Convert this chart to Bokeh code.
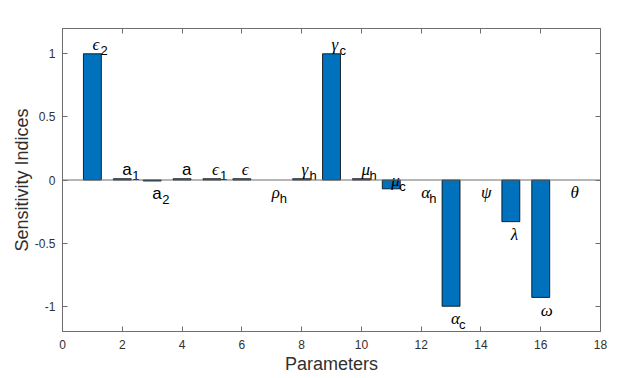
from bokeh.plotting import figure
from bokeh.models import ColumnDataSource, LinearAxis, FixedTicker, Span, Range1d
from bokeh.core.properties import value
from bokeh.embed import file_html
from bokeh.resources import INLINE

# ---- data ----
index = list(range(1, 18))
symbols = ["ϵ", "a", "a", "a", "ϵ", "ϵ", "ρ", "γ", "γ", "μ", "μ", "α", "α", "ψ", "λ", "ω", "θ"]
subscripts = ["2", "1", "2", "", "1", "", "h", "h", "c", "h", "c", "h", "c", "", "", "", ""]
sensitivity = [1.0, 0.01, -0.008, 0.01, 0.01, 0.01, 0.0, 0.01, 1.0, 0.01, -0.07, 0.0, -1.0, 0.0, -0.33, -0.93, 0.0]
x_ticks = [0, 2, 4, 6, 8, 10, 12, 14, 16, 18]
y_ticks = [-1, -0.5, 0, 0.5, 1]
y_tick_labels = ["-1", "-0.5", "0", "0.5", "1"]

# ---- style ----
BAR = "#0072BD"
AX_LINE = "#6e6e6e"
AX_TEXT = "#303030"
FONT = "Liberation Sans"
GREEK_FONT = "Liberation Serif"

def label_offset(v, sym):
    if sym == "μ" and v < 0:
        return 0.07
    return 0.075 if v > 0 else -0.1

greek = [s != "a" for s in symbols]
label_y = [v + label_offset(v, s) for v, s in zip(sensitivity, symbols)]

src = ColumnDataSource(dict(
    x=index, top=sensitivity, bottom=[0] * len(index),
    sym=symbols, sub=subscripts, ly=label_y,
    edge=[0.0 if v == 0 else 1.0 for v in sensitivity],
    font=[GREEK_FONT if g else FONT for g in greek],
    fstyle=["italic" if g else "normal" for g in greek],
    subdx=[8 if g else 10 for g in greek],
))

p = figure(width=632, height=378, output_backend="svg", toolbar_location=None,
           x_range=Range1d(0, 18), y_range=Range1d(-1.2, 1.2),
           min_border_left=62, min_border_right=32, min_border_top=28, min_border_bottom=47,
           background_fill_color="white", border_fill_color="white")
p.xgrid.visible = False
p.ygrid.visible = False
p.outline_line_color = AX_LINE
p.outline_line_width = 1

p.vbar(x="x", top="top", bottom="bottom", width=0.6, source=src,
       fill_color=BAR, line_color="black", line_width=0.8, line_alpha="edge")

p.add_layout(Span(location=0, dimension="width", line_color=AX_LINE, line_width=1))

p.text(x="x", y="ly", text="sym", source=src, text_font="font", text_font_style="fstyle",
       text_font_size="17px", text_baseline="middle", text_align="left", text_color="black")
p.text(x="x", y="ly", text="sub", source=src, text_font=value(FONT),
       text_font_size="13px", text_baseline="middle", text_align="left", text_color="black",
       x_offset="subdx", y_offset=6)

def style_axis(ax):
    ax.axis_line_color = AX_LINE
    ax.major_tick_line_color = AX_LINE
    ax.major_tick_in = 5
    ax.major_tick_out = 0
    ax.minor_tick_line_color = None
    ax.major_label_text_font = FONT
    ax.major_label_text_font_size = "12px"
    ax.major_label_text_color = AX_TEXT
    ax.axis_label_text_font = FONT
    ax.axis_label_text_font_size = "18px"
    ax.axis_label_text_font_style = "normal"
    ax.axis_label_text_color = AX_TEXT

p.xaxis.ticker = FixedTicker(ticks=x_ticks)
p.yaxis.ticker = FixedTicker(ticks=y_ticks)
p.yaxis.major_label_overrides = {t: l for t, l in zip(y_ticks, y_tick_labels)}
p.xaxis.axis_label = "Parameters"
p.yaxis.axis_label = "Sensitivity Indices"
style_axis(p.xaxis[0])
style_axis(p.yaxis[0])
p.xaxis.major_label_standoff = 8
p.yaxis.major_label_standoff = 7
p.xaxis.axis_label_standoff = 2
p.yaxis.axis_label_standoff = 0

# mirrored tick marks on top and right (box on), without labels
top_ax = LinearAxis(ticker=FixedTicker(ticks=x_ticks))
right_ax = LinearAxis(ticker=FixedTicker(ticks=y_ticks))
for ax in (top_ax, right_ax):
    style_axis(ax)
    ax.major_label_text_alpha = 0
p.add_layout(top_ax, "above")
p.add_layout(right_ax, "right")

open("out.html", "w").write(file_html(p, INLINE))
